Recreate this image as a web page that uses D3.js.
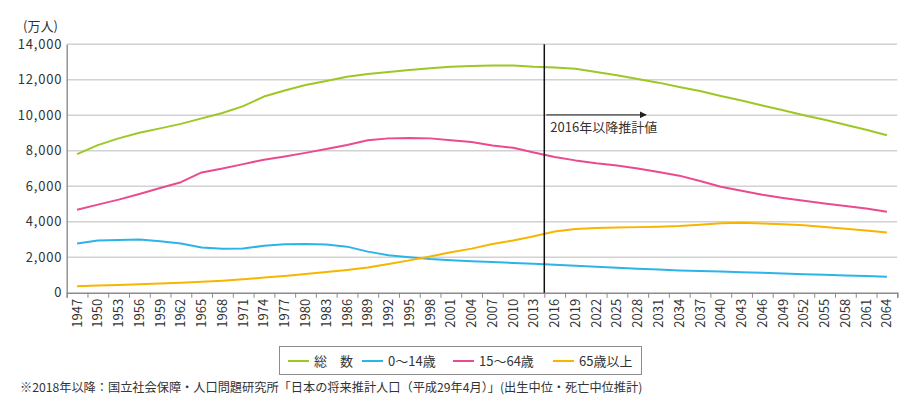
<!DOCTYPE html>
<head>
    <meta charset="utf-8">
    <title>人口推移</title>
    <script type="text/javascript" src="https://d3js.org/d3.v7.min.js"></script>
    <style>
        body { margin: 0; background: #fff; }
        text { font-family: "Noto Sans CJK JP", "Noto Sans", sans-serif; fill: #333; }
    </style>
</head>
<body>
<div id="container"></div>
<script>
    //-----------------------------DATA------------------------------//
    const years = [1947, 1950, 1953, 1956, 1959, 1962, 1965, 1968, 1971, 1974,
        1977, 1980, 1983, 1986, 1989, 1992, 1995, 1998, 2001, 2004,
        2007, 2010, 2013, 2016, 2019, 2022, 2025, 2028, 2031, 2034,
        2037, 2040, 2043, 2046, 2049, 2052, 2055, 2058, 2061, 2064];

    const total = [7810, 8320, 8698, 9017, 9264, 9518, 9828, 10133, 10515, 11057,
        11394, 11706, 11933, 12166, 12325, 12445, 12557, 12647, 12732, 12779,
        12803, 12806, 12730, 12693, 12617, 12440, 12254, 12040, 11840, 11600,
        11370, 11092, 10830, 10550, 10280, 10000, 9744, 9470, 9190, 8880];

    const age0to14 = [2780, 2943, 2980, 3000, 2900, 2780, 2553, 2480, 2490, 2650,
        2740, 2751, 2720, 2600, 2320, 2120, 2001, 1900, 1830, 1780,
        1730, 1684, 1640, 1578, 1521, 1470, 1407, 1355, 1310, 1260,
        1225, 1194, 1160, 1126, 1090, 1050, 1012, 975, 940, 908];

    const age15to64 = [4678, 4966, 5250, 5570, 5900, 6230, 6780, 7000, 7250, 7500,
        7680, 7883, 8100, 8330, 8590, 8700, 8726, 8700, 8600, 8500,
        8300, 8173, 7900, 7656, 7460, 7300, 7170, 7000, 6800, 6600,
        6300, 5978, 5750, 5520, 5340, 5180, 5028, 4890, 4750, 4560];

    const age65over = [374, 411, 445, 485, 520, 570, 618, 680, 760, 860,
        950, 1065, 1170, 1290, 1430, 1620, 1826, 2050, 2287, 2488,
        2746, 2948, 3190, 3459, 3589, 3650, 3677, 3700, 3720, 3760,
        3830, 3921, 3952, 3910, 3860, 3800, 3704, 3610, 3510, 3400];

    const seriesNames = ["総　数", "0～14歳", "15～64歳", "65歳以上"];
    const seriesColors = ["#9cc826", "#2cb4e8", "#ea4b8f", "#f7b500"];
    const seriesValues = [total, age0to14, age15to64, age65over];

    const yTicks = [0, 2000, 4000, 6000, 8000, 10000, 12000, 14000];
    const projectionStart = 2014.5;
    const projectionLabel = "2016年以降推計値";
    const unitLabel = "(万人)";
    const footnote = "※2018年以降：国立社会保障・人口問題研究所「日本の将来推計人口（平成29年4月）」(出生中位・死亡中位推計)";

    //-----------------------------SVG-------------------------------//
    const width = 920;
    const height = 420;
    const plotLeft = 66.7, plotRight = 897.3, plotTop = 44.3, plotBottom = 292.8;

    const svg = d3.select("div#container").append("svg")
        .attr("width", width)
        .attr("height", height);

    //----------------------------SCALES-----------------------------//
    const xScale = d3.scaleLinear().domain([1945.5, 2065.5]).range([plotLeft, plotRight]);
    const yScale = d3.scaleLinear().domain([0, 14000]).range([plotBottom, plotTop]);

    //----------------------------GRID-------------------------------//
    svg.append("g")
        .selectAll("line")
        .data(yTicks.slice(1))
        .enter()
        .append("line")
        .attr("x1", plotLeft)
        .attr("x2", plotRight)
        .attr("y1", d => yScale(d))
        .attr("y2", d => yScale(d))
        .attr("stroke", "#d2d2d2")
        .attr("stroke-width", 1.4);

    //-----------------------------AXES------------------------------//
    const yaxis = d3.axisLeft(yScale)
        .tickValues(yTicks)
        .tickSize(0)
        .tickPadding(4.5)
        .tickFormat(d3.format(","));

    const yg = svg.append("g")
        .attr("transform", "translate(" + plotLeft + ",0)")
        .call(yaxis);
    yg.select(".domain").attr("stroke", "#8c8c8c").attr("stroke-width", 1.4);
    yg.selectAll("text")
        .style("font-size", "13px")
        .style("letter-spacing", "0.8px")
        .attr("fill", "#333")
        .attr("font-family", null);

    // tick marks sit on the boundaries of the 3-year groups
    const boundaries = d3.range(0, years.length + 1).map(i => 1945.5 + i * 3);
    const xaxis = d3.axisBottom(xScale)
        .tickValues(boundaries)
        .tickSize(5)
        .tickFormat("");

    const xg = svg.append("g")
        .attr("transform", "translate(0," + plotBottom + ")")
        .call(xaxis);
    xg.select(".domain").attr("stroke", "#8c8c8c").attr("stroke-width", 1.4);
    xg.selectAll(".tick line").attr("stroke", "#8c8c8c");

    svg.append("g")
        .selectAll("text")
        .data(years)
        .enter()
        .append("text")
        .attr("transform", d => "translate(" + (xScale(d) + 4.5) + "," + (plotBottom + 6) + ") rotate(-90)")
        .attr("text-anchor", "end")
        .style("font-size", "13px")
        .text(d => d);

    svg.append("text")
        .attr("x", 23)
        .attr("y", 31)
        .style("font-size", "13px")
        .text(unitLabel);

    //----------------------------LINES------------------------------//
    const line = d3.line()
        .x((d, i) => xScale(years[i]))
        .y(d => yScale(d));

    svg.append("g")
        .selectAll("path")
        .data(seriesValues)
        .enter()
        .append("path")
        .attr("fill", "none")
        .attr("stroke", (d, i) => seriesColors[i])
        .attr("stroke-width", 2)
        .attr("stroke-linejoin", "round")
        .attr("d", d => line(d));

    //----------------------PROJECTION MARKER------------------------//
    svg.append("line")
        .attr("x1", xScale(projectionStart))
        .attr("x2", xScale(projectionStart))
        .attr("y1", plotTop)
        .attr("y2", plotBottom)
        .attr("stroke", "#111")
        .attr("stroke-width", 1.5);

    svg.append("defs").append("marker")
        .attr("id", "arrow")
        .attr("viewBox", "0 0 10 10")
        .attr("refX", 9)
        .attr("refY", 5)
        .attr("markerWidth", 7)
        .attr("markerHeight", 7)
        .attr("markerUnits", "userSpaceOnUse")
        .attr("orient", "auto")
        .append("path")
        .attr("d", "M0,0L10,5L0,10Z")
        .attr("fill", "#222");

    svg.append("line")
        .attr("x1", xScale(projectionStart) + 2)
        .attr("x2", xScale(2029.2))
        .attr("y1", yScale(10000) - 0.5)
        .attr("y2", yScale(10000) - 0.5)
        .attr("stroke", "#444")
        .attr("stroke-width", 1.3)
        .attr("marker-end", "url(#arrow)");

    svg.append("text")
        .attr("x", xScale(projectionStart) + 6)
        .attr("y", yScale(10000) + 17)
        .style("font-size", "13px")
        .text(projectionLabel);

    //----------------------------LEGEND-----------------------------//
    svg.append("rect")
        .attr("x", 279.5)
        .attr("y", 346.5)
        .attr("width", 362)
        .attr("height", 28)
        .attr("fill", "#fff")
        .attr("stroke", "#8c8c8c");

    const legendX = [288, 362, 453, 553];
    const legend = svg.append("g")
        .selectAll("g")
        .data(seriesNames)
        .enter()
        .append("g")
        .attr("transform", (d, i) => "translate(" + legendX[i] + ",361)");

    legend.append("line")
        .attr("x1", 0)
        .attr("x2", 21)
        .attr("stroke", (d, i) => seriesColors[i])
        .attr("stroke-width", 2);

    legend.append("text")
        .attr("x", 26)
        .attr("dy", "0.35em")
        .style("font-size", "13px")
        .text(d => d);

    //---------------------------FOOTNOTE----------------------------//
    svg.append("text")
        .attr("x", 20)
        .attr("y", 392)
        .style("font-size", "12.2px")
        .text(footnote);
</script>
</body>
